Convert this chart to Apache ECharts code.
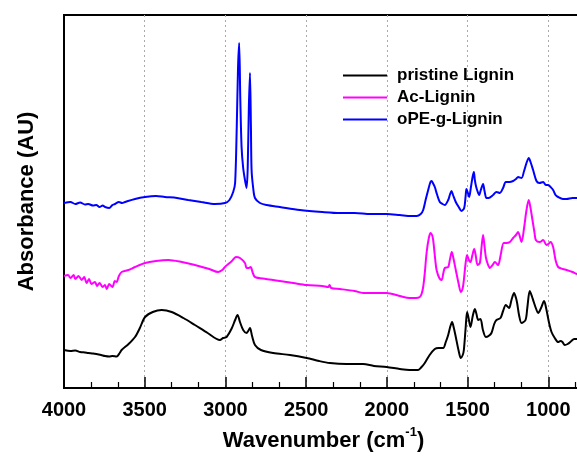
<!DOCTYPE html>
<html><head><meta charset="utf-8">
<script src="https://cdn.jsdelivr.net/npm/echarts@6/dist/echarts.min.js"></script>
<style>html,body{margin:0;padding:0;background:#fff;overflow:hidden;width:577px;height:464px;}#c{width:640px;height:464px;}</style>
</head><body><div id="c"></div>
<script>
const xTicks = [4000, 3500, 3000, 2500, 2000, 1500, 1000];
const seriesNames = ['pristine Lignin', 'Ac-Lignin', 'oPE-g-Lignin'];

const pristineWN = [4000,3960,3930,3900,3870,3850,3820,3800,3770,3746,3720,3700,3674,3655,3643,3600,3560,3530,3498,3450,3395,3333,3260,3189,3110,3034,3015,2993,2960,2940,2925,2910,2890,2869,2859,2848,2835,2817,2780,2704,2600,2497,2420,2353,2250,2147,2080,2002,1920,1860,1806,1785,1765,1735,1703,1680,1651,1635,1620,1606,1596,1585,1573,1555,1542,1530,1523,1512,1503,1494,1482,1468,1455,1445,1434,1420,1405,1387,1370,1352,1335,1321,1296,1280,1263,1243,1228,1212,1200,1193,1180,1166,1141,1130,1115,1102,1090,1075,1063,1045,1026,1011,995,980,960,939,925,912,898,880,857,840,823,790];
const pristineAbs = [38,37,37.5,36,35.5,35,34.5,34,33,32,31.5,32,31.5,35,38,44,51,60,71,76,78,76,70,63,55,48,50,51,60,68,73,66,58,55,57,60,52,43,38,35,33,30,27,25,24,24,22,21,19,18,18,21,25,33,39,40,40,46,53,62,66,60,51,37,30,33,38,60,76,70,61,72,79,74,68,69,58,51,52,55,64,68,70,77,83,80,88,95,90,85,72,65,68,80,97,92,86,79,75,80,87,78,65,56,50,46,47,46,43,44,47,49,49,49];

const acWN = [4000,3975,3960,3940,3930,3910,3890,3875,3860,3845,3830,3808,3795,3780,3760,3746,3735,3720,3700,3685,3674,3660,3643,3600,3560,3498,3430,3354,3270,3189,3100,3045,3020,3003,2960,2935,2910,2879,2869,2855,2844,2830,2817,2750,2663,2580,2497,2400,2363,2355,2345,2291,2200,2147,2050,2002,1920,1858,1820,1796,1785,1775,1765,1754,1740,1729,1720,1713,1700,1692,1675,1661,1650,1641,1620,1610,1598,1588,1573,1555,1542,1530,1523,1512,1503,1492,1482,1470,1459,1450,1438,1424,1414,1404,1395,1387,1375,1362,1345,1331,1311,1295,1276,1260,1238,1218,1200,1187,1166,1150,1135,1121,1110,1098,1085,1077,1053,1032,1011,1000,986,970,955,939,910,887,850,823,790];
const acAbs = [112,113,110,113,109,112,108,111,105,109,104,106,102,105,101,103,99,104,101,107,106,112,116,118,121,125,127,128,126,123,119,116,118,121,127,131,130,125,120,120,121,115,111,109,107,105,103,102,101,103,100,99,97,95,95,95,92,90,90,91,94,101,115,135,150,155,153,148,128,118,110,108,115,120,121,128,136,130,118,104,96,100,108,125,133,128,126,133,139,133,123,125,140,153,142,131,124,120,123,126,123,133,145,145,146,150,153,156,146,160,178,188,180,168,155,148,146,148,143,144,146,141,128,121,119,118,116,114,113];

const opeWN = [4000,3960,3930,3900,3870,3850,3820,3800,3780,3760,3746,3720,3700,3684,3660,3640,3622,3560,3498,3430,3375,3300,3230,3150,3065,3003,2975,2952,2940,2930,2922,2915,2908,2900,2890,2879,2869,2862,2855,2848,2842,2838,2828,2817,2786,2745,2663,2539,2400,2291,2200,2100,2002,1920,1850,1816,1790,1775,1760,1744,1730,1723,1715,1703,1690,1672,1655,1641,1620,1610,1600,1590,1573,1555,1538,1521,1512,1507,1498,1490,1480,1469,1461,1455,1448,1441,1428,1418,1404,1395,1383,1370,1342,1321,1300,1280,1263,1240,1218,1200,1187,1166,1150,1135,1121,1110,1094,1073,1055,1032,1015,1000,986,970,955,939,910,887,850,823,790];
const opeAbs = [185,186,184,185.5,183.5,184,182.5,183,181,182.5,181,180,183,184,186,185,186,189,191,192,191,190,188,186,184,185,188,196,205,260,320,345,290,241,220,208,200,220,280,315,260,218,200,190,185,183,181,178,176,175,175,174,174,173,172,172,174,178,188,198,206,207,205,201,194,186,184,183,188,193,197,193,186,181,177,180,192,199,195,191,200,211,216,208,202,198,193,198,204,197,190,190,193,196,195,200,206,206,207,209,211,210,217,225,230,226,218,207,205,206,203,203,201,198,193,191,189,189,190,190,190];

function pairs(w, a) { return w.map((x, i) => [x, a[i]]); }

const chart = echarts.init(document.getElementById('c'), null, {renderer: 'canvas'});
const FONT = 'Liberation Sans, Arial, sans-serif';
chart.setOption({
  animation: false,
  backgroundColor: '#fff',
  grid: {left: 64, top: 15, right: 11, bottom: 76, show: true, borderColor: '#000', borderWidth: 2, backgroundColor: 'transparent'},
  legend: {
    orient: 'vertical', left: 338, top: 62, itemWidth: 44, itemHeight: 2, itemGap: 5,
    icon: 'rect', data: seriesNames,
    textStyle: {fontFamily: FONT, fontWeight: 'bold', fontSize: 17, color: '#000', padding: [0,0,0,5]}
  },
  xAxis: {
    type: 'value', inverse: true, min: 500, max: 4000, interval: 500,
    axisLine: {show: true, lineStyle: {color: '#000', width: 2}},
    axisTick: {show: true, inside: true, length: 11, lineStyle: {color: '#000', width: 1.5}},
    minorTick: {show: true, splitNumber: 3, length: 6, lineStyle: {color: '#000', width: 1.2}},
    splitLine: {show: true, lineStyle: {color: '#aaa', type: [2, 3], width: 1}},
    axisLabel: {
      margin: 12, fontFamily: FONT, fontWeight: 'bold', fontSize: 20, color: '#000',
      formatter: v => xTicks.indexOf(v) >= 0 ? String(v) : ''
    },
    name: '{a|Wavenumber (cm}{s|-1}{a|)}', nameLocation: 'middle', nameGap: 38,
    nameTextStyle: {
      padding: [0, 46, 0, 0],
      rich: {
        a: {fontFamily: FONT, fontWeight: 'bold', fontSize: 22, color: '#000', verticalAlign: 'bottom', lineHeight: 26},
        s: {fontFamily: FONT, fontWeight: 'bold', fontSize: 13, color: '#000', verticalAlign: 'top', lineHeight: 26, padding: [0,0,10,0]}
      }
    }
  },
  yAxis: {
    type: 'value', min: 0, max: 373,
    axisLine: {show: true, lineStyle: {color: '#000', width: 2}},
    axisTick: {show: false}, axisLabel: {show: false}, splitLine: {show: false},
    name: 'Absorbance (AU)', nameLocation: 'middle', nameGap: 26,
    nameTextStyle: {fontFamily: FONT, fontWeight: 'bold', fontSize: 22, color: '#000'}
  },
  series: [
    {name: seriesNames[0], type: 'line', data: pairs(pristineWN, pristineAbs), showSymbol: false, smooth: 0.3, lineStyle: {color: '#000000', width: 2}, itemStyle: {color: '#000000'}},
    {name: seriesNames[1], type: 'line', data: pairs(acWN, acAbs), showSymbol: false, smooth: 0.3, lineStyle: {color: '#ff00ff', width: 2}, itemStyle: {color: '#ff00ff'}},
    {name: seriesNames[2], type: 'line', data: pairs(opeWN, opeAbs), showSymbol: false, smooth: 0.3, lineStyle: {color: '#0000ff', width: 2}, itemStyle: {color: '#0000ff'}}
  ]
});
</script></body></html>
